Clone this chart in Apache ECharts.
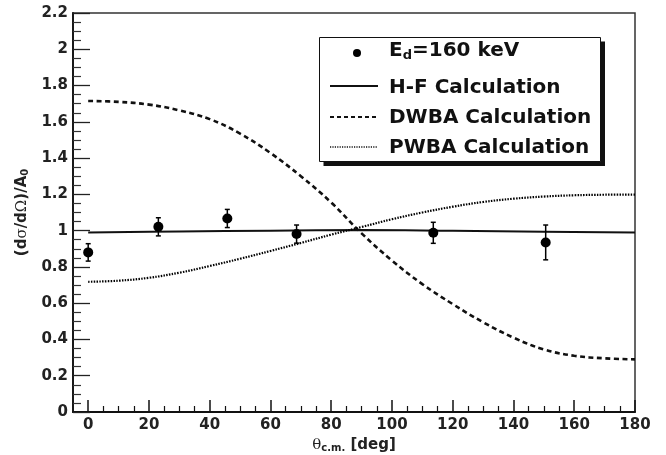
<!DOCTYPE html>
<html>
<head>
<meta charset="utf-8">
<script src="https://cdn.jsdelivr.net/npm/echarts@6/dist/echarts.min.js"></script>
<style>
  html, body { margin: 0; padding: 0; background: #fff; }
  #chart { width: 666px; height: 455px; }
</style>
</head>
<body>
<div id="chart"></div>
<script>
// Angular distribution (c.m. frame) normalised to A0

// Theory curves, sampled every 10 degrees
const curveTheta = [0, 10, 20, 30, 40, 50, 60, 70, 80, 90, 100, 110, 120, 130, 140, 150, 160, 170, 180];
const dwbaCurve = [1.715, 1.710, 1.695, 1.663, 1.615, 1.535, 1.428, 1.300, 1.155, 0.985, 0.835, 0.705, 0.595, 0.495, 0.410, 0.345, 0.310, 0.296, 0.290];
const pwbaCurve = [0.718, 0.724, 0.740, 0.768, 0.805, 0.845, 0.888, 0.932, 0.978, 1.020, 1.063, 1.100, 1.132, 1.158, 1.176, 1.188, 1.195, 1.198, 1.199];

// Hauser-Feshbach curve
const hfTheta = [0, 30, 60, 90, 120, 150, 180];
const hfCurve = [0.990, 0.995, 1.000, 1.003, 0.999, 0.994, 0.990];

// Measured points, Ed = 160 keV
const expTheta = [0, 23.1, 45.8, 68.6, 113.6, 150.6];
const expValue = [0.880, 1.021, 1.067, 0.981, 0.988, 0.935];
const expError = [0.048, 0.050, 0.050, 0.050, 0.058, 0.096];

// Axis ticks
const xMajorTicks = [0, 20, 40, 60, 80, 100, 120, 140, 160, 180];
const xMinorTicks = [5, 10, 15, 25, 30, 35, 45, 50, 55, 65, 70, 75, 85, 90, 95, 105, 110, 115, 125, 130, 135, 145, 150, 155, 165, 170, 175];

const FONT = 'DejaVu Sans';
const pair = (xs, ys) => xs.map((x, i) => [x, ys[i]]);

const chart = echarts.init(document.getElementById('chart'), null, { renderer: 'canvas' });

chart.setOption({
  animation: false,
  backgroundColor: '#ffffff',
  grid: {
    left: 73, right: 31, top: 13, bottom: 43,
    containLabel: false,
    outerBoundsMode: 'none',
    show: true,
    borderColor: '#333',
    borderWidth: 1.5,
    backgroundColor: 'transparent'
  },
  xAxis: [
    {
      type: 'value', min: -5, max: 180, position: 'bottom',
      axisLine: { show: true, onZero: false, lineStyle: { color: '#111', width: 2 } },
      axisTick: { show: true, inside: true, length: 12, customValues: xMajorTicks, lineStyle: { color: '#111', width: 1.5 } },
      axisLabel: {
        show: true, customValues: xMajorTicks, margin: 6,
        fontFamily: FONT, fontWeight: 'bold', fontSize: 15, color: '#222'
      },
      splitLine: { show: false },
      name: '{g|θ}{s|c.m.}{n| [deg]}',
      nameLocation: 'middle',
      nameGap: 24,
      nameTextStyle: {
        rich: {
          g: { fontFamily: 'DejaVu Serif', fontSize: 15, color: '#222' },
          s: { fontFamily: FONT, fontWeight: 'bold', fontSize: 10, color: '#222', padding: [7, 0, 0, 0] },
          n: { fontFamily: FONT, fontWeight: 'bold', fontSize: 15, color: '#222' }
        }
      }
    },
    {
      type: 'value', min: -5, max: 180, position: 'bottom', gridIndex: 0,
      axisLine: { show: false, onZero: false },
      axisTick: { show: true, inside: true, length: 6, customValues: xMinorTicks, lineStyle: { color: '#111', width: 1.2 } },
      axisLabel: { show: false },
      splitLine: { show: false }
    }
  ],
  yAxis: {
    type: 'value', min: 0, max: 2.2, interval: 0.2,
    axisLine: { show: true, onZero: false, lineStyle: { color: '#111', width: 1.8 } },
    axisTick: { show: true, inside: true, length: 17, lineStyle: { color: '#222', width: 1.3 } },
    minorTick: { show: true, splitNumber: 4, length: 8, lineStyle: { color: '#333', width: 1.2 } },
    axisLabel: {
      margin: 5, fontFamily: FONT, fontWeight: 'bold', fontSize: 15, color: '#222',
      formatter: v => String(+v.toFixed(1))
    },
    splitLine: { show: false },
    minorSplitLine: { show: false },
    name: '{n|(d}{g|σ}{n|/d}{g|Ω}{n|)/A}{s|0}',
    nameLocation: 'middle',
    nameGap: 38,
    nameRotate: 90,
    nameTextStyle: {
      rich: {
        n: { fontFamily: FONT, fontWeight: 'bold', fontSize: 15, color: '#222' },
        g: { fontFamily: 'DejaVu Serif', fontSize: 15, color: '#222' },
        s: { fontFamily: FONT, fontWeight: 'bold', fontSize: 10, color: '#222', padding: [7, 0, 0, 0] }
      }
    }
  },
  series: [
    {
      name: 'H-F Calculation', type: 'line', data: pair(hfTheta, hfCurve),
      smooth: 0.4, showSymbol: false, silent: true,
      lineStyle: { color: '#111', width: 2 }, z: 3
    },
    {
      name: 'DWBA Calculation', type: 'line', data: pair(curveTheta, dwbaCurve),
      smooth: 0.4, showSymbol: false, silent: true,
      lineStyle: { color: '#111', width: 2.6, type: [5, 3.5] }, z: 3
    },
    {
      name: 'PWBA Calculation', type: 'line', data: pair(curveTheta, pwbaCurve),
      smooth: 0.4, showSymbol: false, silent: true,
      lineStyle: { color: '#000', width: 2.2, type: [1.5, 1.3] }, z: 3
    },
    {
      name: 'errors', type: 'custom', silent: true, z: 4,
      data: expTheta.map((t, i) => [t, expValue[i] - expError[i], expValue[i] + expError[i]]),
      renderItem: (params, api) => {
        const lo = api.coord([api.value(0), api.value(1)]);
        const hi = api.coord([api.value(0), api.value(2)]);
        const cap = 2.5;
        const st = { stroke: '#000', lineWidth: 1.5 };
        return {
          type: 'group',
          children: [
            { type: 'line', shape: { x1: lo[0], y1: lo[1], x2: hi[0], y2: hi[1] }, style: st },
            { type: 'line', shape: { x1: lo[0] - cap, y1: lo[1], x2: lo[0] + cap, y2: lo[1] }, style: st },
            { type: 'line', shape: { x1: hi[0] - cap, y1: hi[1], x2: hi[0] + cap, y2: hi[1] }, style: st }
          ]
        };
      }
    },
    {
      name: 'Ed=160 keV', type: 'scatter', data: pair(expTheta, expValue),
      symbol: 'circle', symbolSize: 10, silent: true, z: 5,
      itemStyle: { color: '#000', opacity: 1 }
    }
  ],
  graphic: [
    // legend box with hard drop shadow
    { type: 'rect', z: 10, shape: { x: 323.5, y: 41.5, width: 281.5, height: 124.5 }, style: { fill: '#111' } },
    { type: 'rect', z: 11, shape: { x: 319.5, y: 37.5, width: 281, height: 124 }, style: { fill: '#fff', stroke: '#111', lineWidth: 1 } },
    { type: 'circle', z: 12, shape: { cx: 357, cy: 53, r: 4 }, style: { fill: '#000' } },
    { type: 'line', z: 12, shape: { x1: 330, y1: 86, x2: 378, y2: 86 }, style: { stroke: '#111', lineWidth: 2 } },
    { type: 'line', z: 12, shape: { x1: 330, y1: 117, x2: 378, y2: 117 }, style: { stroke: '#111', lineWidth: 2, lineDash: [4, 3] } },
    { type: 'line', z: 12, shape: { x1: 330, y1: 147, x2: 378, y2: 147 }, style: { stroke: '#111', lineWidth: 1.5, lineDash: [1.2, 1.2] } },
    {
      type: 'text', z: 12, x: 389, y: 51,
      style: {
        text: '{a|E}{b|d}{a|=160 keV}', verticalAlign: 'middle', align: 'left',
        rich: {
          a: { fontFamily: FONT, fontWeight: 'bold', fontSize: 20, fill: '#111' },
          b: { fontFamily: FONT, fontWeight: 'bold', fontSize: 13, fill: '#111', padding: [10, 0, 0, 0] }
        }
      }
    },
    { type: 'text', z: 12, x: 389, y: 88, style: { text: 'H-F Calculation', verticalAlign: 'middle', font: 'bold 20px "DejaVu Sans"', fill: '#111' } },
    { type: 'text', z: 12, x: 389, y: 117.5, style: { text: 'DWBA Calculation', verticalAlign: 'middle', font: 'bold 20px "DejaVu Sans"', fill: '#111' } },
    { type: 'text', z: 12, x: 389, y: 147.5, style: { text: 'PWBA Calculation', verticalAlign: 'middle', font: 'bold 20px "DejaVu Sans"', fill: '#111' } }
  ]
});
</script>
</body>
</html>
